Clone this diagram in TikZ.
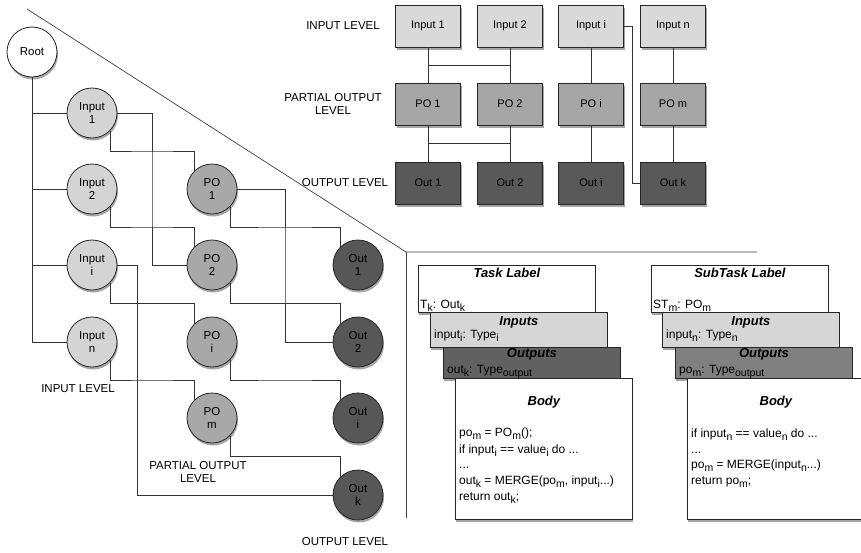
\documentclass[tikz,border=0pt]{standalone}
\usepackage{fontspec}
\setmainfont{Liberation Sans}
\usetikzlibrary{shadows,calc}
\newcommand{\sbs}[1]{\raisebox{-3pt}{\fontsize{10.5}{11}\selectfont #1}}
\begin{document}
\begin{tikzpicture}[x=1pt,y=-1pt,
  shd/.style={drop shadow={shadow xshift=1pt,shadow yshift=-2.5pt,opacity=0.35,fill=black}},
  circ/.style={circle,draw=black!85,line width=0.8pt,minimum size=50pt,inner sep=0pt,align=center,
    font=\fontsize{11.5}{13.3}\selectfont,shd},
  inc/.style={circ,fill=black!17},
  poc/.style={circ,fill=black!34},
  outc/.style={circ,fill=black!66},
  box/.style={rectangle,draw=black!85,line width=0.8pt,minimum width=65pt,minimum height=42pt,
    inner sep=0pt,font=\fontsize{11}{13}\selectfont,shd},
  inb/.style={box,fill=black!15},
  pob/.style={box,fill=black!35},
  outb/.style={box,fill=black!65},
  lvl/.style={align=center,inner sep=0pt,font=\fontsize{11.5}{13.5}\selectfont},
  conn/.style={draw=black!80,line width=0.7pt},
  sep/.style={draw=black!75,line width=0.7pt},
  card/.style={rectangle,draw=black!85,line width=0.8pt,anchor=north west,inner sep=0pt,shd},
  ttl/.style={inner sep=0pt,font=\fontsize{13}{15}\selectfont\bfseries\itshape},
  ctx/.style={inner sep=0pt,anchor=base west,font=\fontsize{12}{14}\selectfont},
]
\useasboundingbox (0,0) rectangle (861,552);

% ---------- separators ----------
\coordinate (d0) at (27,9);
\coordinate (d1) at (406,252);
\coordinate (d2) at (757,252);
\coordinate (d3) at (406,518);
\draw[sep] (d0) -- (d1) -- (d2);
\draw[sep] (d1) -- (d3);

% ---------- tree ----------
\node[circ,fill=white] (root) at (32,52) {Root};
\node[inc] (in1) at (92,113) {Input\\1};
\node[inc] (in2) at (92,189) {Input\\2};
\node[inc] (ini) at (92,265) {Input\\i};
\node[inc] (inn) at (92,342) {Input\\n};
\node[poc] (po1) at (212,189) {PO\\1};
\node[poc] (po2) at (212,265) {PO\\2};
\node[poc] (poi) at (212,342) {PO\\i};
\node[poc] (pom) at (212,418) {PO\\m};
\node[outc] (out1) at (358,265) {Out\\1};
\node[outc] (out2) at (358,342) {Out\\2};
\node[outc] (outi) at (358,418) {Out\\i};
\node[outc] (outk) at (358,495) {Out\\k};

\draw[conn] (root.south) |- (inn.west);
\draw[conn] (root.south |- in1.west) -- (in1.west);
\draw[conn] (root.south |- in2.west) -- (in2.west);
\draw[conn] (root.south |- ini.west) -- (ini.west);

\foreach \a/\b in {in1/po1,in2/po2,ini/poi,inn/pom,po1/out1,po2/out2,poi/outi,pom/outk}
  \draw[conn] (\a.-45) |- ($(\a.-45)!.5!(\b.135)$) -| (\b.135);
\draw[conn] (in1.east) -| ($(in1.east)!.5!(po2.west)$) |- (po2.west);
\draw[conn] (po1.east) -| ($(po1.east)!.5!(out2.west)$) |- (out2.west);
\draw[conn] (ini.east) -- ++(20,0) |- (outk.west);

\node[lvl] (tl1) at (78,389) {INPUT LEVEL};
\node[lvl] (tl2) at (198,472) {PARTIAL OUTPUT\\LEVEL};
\node[lvl] (tl3) at (345,542) {OUTPUT LEVEL};

% ---------- grid ----------
\node[inb] (gi1) at (428,26) {Input 1};
\node[inb] (gi2) at (510,26) {Input 2};
\node[inb] (gii) at (591,26) {Input i};
\node[inb] (gin) at (673,26) {Input n};
\node[pob] (gp1) at (428,104) {PO 1};
\node[pob] (gp2) at (510,104) {PO 2};
\node[pob] (gpi) at (591,104) {PO i};
\node[pob] (gpm) at (673,104) {PO m};
\node[outb] (go1) at (428,183) {Out 1};
\node[outb] (go2) at (510,183) {Out 2};
\node[outb] (goi) at (591,183) {Out i};
\node[outb] (gok) at (673,183) {Out k};

\foreach \a/\b in {gi1/gp1,gi2/gp2,gii/gpi,gin/gpm,gp1/go1,gp2/go2,gpi/goi,gpm/gok}
  \draw[conn] (\a.south) -- (\b.north);
\draw[conn] ($(gi1.south)!.5!(gp1.north)$) -- ($(gi2.south)!.5!(gp2.north)$);
\draw[conn] ($(gp1.south)!.5!(go1.north)$) -- ($(gp2.south)!.5!(go2.north)$);
\draw[conn] (gii.east) -| ($(gii.east)!.5!(gok.west)$) |- (gok.west);

\node[lvl] (gl1) at (343,26) {INPUT LEVEL};
\node[lvl] (gl2) at (333,104) {PARTIAL OUTPUT\\LEVEL};
\node[lvl] (gl3) at (345,183) {OUTPUT LEVEL};

% ---------- task card ----------
\node[card,fill=white,minimum width=177pt,minimum height=47pt] (ta) at (418,265) {};
\node[ttl] at ($(ta.north)+(0,8)$) {Task Label};
\node[ctx] at ($(ta.north west)+(2,43)$) {T\sbs{k}: Out\sbs{k}};
\node[card,fill=black!16,minimum width=177pt,minimum height=35pt] (tb) at (430,312) {};
\node[ttl] at ($(tb.north)+(0,10)$) {Inputs};
\node[ctx] at ($(tb.north west)+(4,26)$) {input\sbs{i}: Type\sbs{i}};
\node[card,fill=black!62,minimum width=177pt,minimum height=31pt] (tc) at (443,347) {};
\node[ttl] at ($(tc.north)+(0,7)$) {Outputs};
\node[ctx] at ($(tc.north west)+(4,26)$) {out\sbs{k}: Type\sbs{output}};
\node[card,fill=white,minimum width=177pt,minimum height=141pt] (td) at (455,378) {};
\node[ttl] at ($(td.north)+(0,24)$) {Body};
\node[ctx] at ($(td.north west)+(4,58)$) {po\sbs{m} = PO\sbs{m}();};
\node[ctx] at ($(td.north west)+(4,75)$) {if input\sbs{i} == value\sbs{i} do ...};
\node[ctx] at ($(td.north west)+(4,90)$) {...};
\node[ctx] at ($(td.north west)+(4,106)$) {out\sbs{k} = MERGE(po\sbs{m}, input\sbs{i}...)};
\node[ctx] at ($(td.north west)+(4,122)$) {return out\sbs{k};};

% ---------- subtask card ----------
\node[card,fill=white,minimum width=177pt,minimum height=47pt] (sa) at (651,265) {};
\node[ttl] at ($(sa.north)+(0,8)$) {SubTask Label};
\node[ctx] at ($(sa.north west)+(2,43)$) {ST\sbs{m}: PO\sbs{m}};
\node[card,fill=black!16,minimum width=177pt,minimum height=35pt] (sb) at (662,312) {};
\node[ttl] at ($(sb.north)+(0,10)$) {Inputs};
\node[ctx] at ($(sb.north west)+(4,26)$) {input\sbs{n}: Type\sbs{n}};
\node[card,fill=black!50,minimum width=177pt,minimum height=31pt] (sc) at (675,347) {};
\node[ttl] at ($(sc.north)+(0,7)$) {Outputs};
\node[ctx] at ($(sc.north west)+(4,26)$) {po\sbs{m}: Type\sbs{output}};
\node[card,fill=white,minimum width=177pt,minimum height=141pt] (sd) at (687,378) {};
\node[ttl] at ($(sd.north)+(0,24)$) {Body};
\node[ctx] at ($(sd.north west)+(4,59)$) {if input\sbs{n} == value\sbs{n} do ...};
\node[ctx] at ($(sd.north west)+(4,75)$) {...};
\node[ctx] at ($(sd.north west)+(4,90)$) {po\sbs{m} = MERGE(input\sbs{n}...)};
\node[ctx] at ($(sd.north west)+(4,106)$) {return po\sbs{m};};
\end{tikzpicture}
\end{document}
